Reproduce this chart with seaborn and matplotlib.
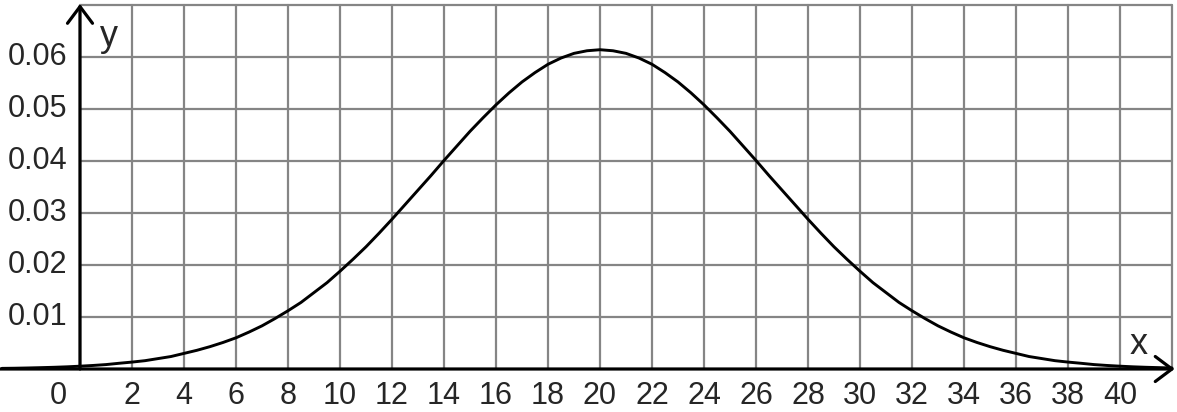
import numpy as np
import matplotlib
matplotlib.use('Agg')
import matplotlib.pyplot as plt
import seaborn as sns

# Значения (шаг 0.5 от -3 до 42)
x_vals = list(np.arange(-3, 42.5, 0.5))
y_vals = [0.00012, 0.00015, 0.00020, 0.00026, 0.00033, 0.00042, 0.00054, 0.00068,
          0.00085, 0.0011, 0.00133, 0.0016, 0.0020, 0.0024, 0.0030, 0.0036,
          0.0043, 0.0051, 0.0060, 0.0071, 0.0083, 0.0097, 0.0112, 0.0128,
          0.0147, 0.0166, 0.0188, 0.0211, 0.0235, 0.0261, 0.0288, 0.0316,
          0.0344, 0.0372, 0.0401, 0.0429, 0.0457, 0.0483, 0.0508, 0.0531,
          0.0552, 0.0570, 0.0586, 0.0598, 0.0607, 0.0612, 0.0614,
          0.0612, 0.0607, 0.0598, 0.0586, 0.0570, 0.0552, 0.0531, 0.0508,
          0.0483, 0.0457, 0.0429, 0.0401, 0.0372, 0.0344, 0.0316, 0.0288,
          0.0261, 0.0235, 0.0211, 0.0188, 0.0166, 0.0147, 0.0128, 0.0112,
          0.0097, 0.0083, 0.0071, 0.0060, 0.0051, 0.0043, 0.0036, 0.0030,
          0.0024, 0.0020, 0.0016, 0.00133, 0.0011, 0.00085, 0.00068, 0.00054,
          0.00042, 0.00033, 0.00026, 0.00020]
x_ticks = list(range(0, 41, 2))
y_ticks = [0.01, 0.02, 0.03, 0.04, 0.05, 0.06]
y_labels = ['0.01', '0.02', '0.03', '0.04', '0.05', '0.06']

sns.set_style('white')
plt.rcParams['font.family'] = ['Liberation Sans', 'DejaVu Sans']

fig = plt.figure(figsize=(11.77, 4.12), dpi=100)
ax = fig.add_axes([0, 43 / 412, 1, 369 / 412])
ax.set_xlim(-80 / 26, 1097 / 26)
ax.set_ylim(0, 369 / 5200)
ax.axis('off')

# сетка
grid_col = '#858585'
for gx in range(0, 43, 2):
    ax.plot([gx, gx], [0, 0.07], color=grid_col, lw=1.6, zorder=1)
for gy in [0.01, 0.02, 0.03, 0.04, 0.05, 0.06, 0.07]:
    ax.plot([0, 42], [gy, gy], color=grid_col, lw=1.6, zorder=1)

# кривая
sns.lineplot(x=x_vals, y=y_vals, color='black', lw=2.1, ax=ax, zorder=3)

# оси со стрелками
arrow = dict(arrowstyle='->,head_length=0.6,head_width=0.45', color='black',
             lw=2.3, mutation_scale=20, shrinkA=0, shrinkB=0)
ax.annotate('', xy=(42.1, 0), xytext=(-80 / 26, 0), arrowprops=arrow,
            annotation_clip=False, zorder=4)
ax.annotate('', xy=(0, 0.0702), xytext=(0, 0), arrowprops=arrow,
            annotation_clip=False, zorder=4)

# подписи
fs = 22
for t, lab in zip(y_ticks, y_labels):
    ax.text(-0.5, t, lab, ha='right', va='center', fontsize=fs, clip_on=False)
for t in x_ticks:
    xpos = -0.85 if t == 0 else t
    ax.text(xpos, -0.0052, str(t), ha='center', va='center', fontsize=fs,
            clip_on=False)
ax.text(1.1, 0.0640, 'y', ha='center', va='center', fontsize=26)
ax.text(40.7, 0.0048, 'x', ha='center', va='center', fontsize=26)

fig.savefig('out.png', dpi=100)
